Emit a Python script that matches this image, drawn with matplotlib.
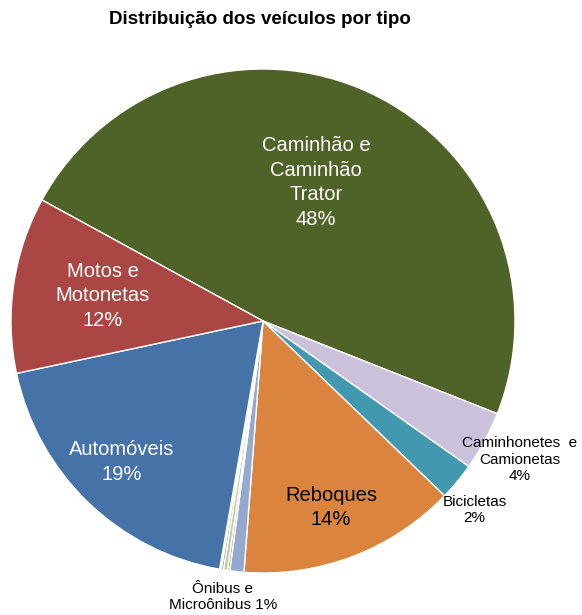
import matplotlib
matplotlib.use("Agg")
import matplotlib.pyplot as plt

plt.rcParams["font.family"] = ["Liberation Sans", "DejaVu Sans"]

# slices in clockwise order, starting with the big green one
categories = [
    "Caminhão e Caminhão Trator",
    "Caminhonetes e Camionetas",
    "Bicicletas",
    "Reboques",
    "Ônibus e Microônibus",
    "Outros 1",
    "Outros 2",
    "Outros 3",
    "Outros 4",
    "Automóveis",
    "Motos e Motonetas",
]
shares = [48.0, 3.8, 2.4, 14.0, 0.9, 0.15, 0.25, 0.15, 0.1, 18.9, 11.3]
colors = [
    "#4F6228", "#CCC1DA", "#4198AF", "#DB843D", "#93A9CF",
    "#D19392", "#B9CD96", "#A99BBD", "#92C3D4", "#4572A7", "#AA4643",
]

# label text, position (pie units), colour, size, line spacing
labels = {
    "Caminhão e Caminhão Trator": ("Caminhão e\nCaminhão\nTrator\n48%", (0.21, 0.55), "white", 14.5, 1.38),
    "Motos e Motonetas": ("Motos e\nMotonetas\n12%", (-0.635, 0.10), "white", 14.5, 1.38),
    "Automóveis": ("Automóveis\n19%", (-0.56, -0.56), "white", 14.5, 1.38),
    "Reboques": ("Reboques\n14%", (0.27, -0.74), "black", 14.5, 1.38),
    "Caminhonetes e Camionetas": ("Caminhonetes  e\nCamionetas\n4%", (1.02, -0.55), "black", 11, 1.25),
    "Bicicletas": ("Bicicletas\n2%", (0.84, -0.75), "black", 11, 1.25),
    "Ônibus e Microônibus": ("Ônibus e\nMicroônibus 1%", (-0.16, -1.095), "black", 11, 1.25),
}

W, H = 582, 615
cx, cy, r = 263, 321, 252
fig = plt.figure(figsize=(W / 100, H / 100), dpi=100)
ax = fig.add_axes([(cx - r) / W, (H - cy - r) / H, 2 * r / W, 2 * r / H])

ax.pie(
    shares,
    colors=colors,
    startangle=151.3,
    counterclock=False,
    radius=1,
    wedgeprops=dict(edgecolor="white", linewidth=1),
)
ax.set_xlim(-1, 1)
ax.set_ylim(-1, 1)
ax.axis("off")

for cat, (txt, (x, y), col, fs, ls) in labels.items():
    ax.text(x, y, txt, ha="center", va="center", color=col, fontsize=fs,
            linespacing=ls)

fig.text(260 / W, 1 - 20 / H, "Distribuição dos veículos por tipo",
         ha="center", va="center", fontsize=13.5, fontweight="bold")

fig.savefig("out.png", dpi=100)
